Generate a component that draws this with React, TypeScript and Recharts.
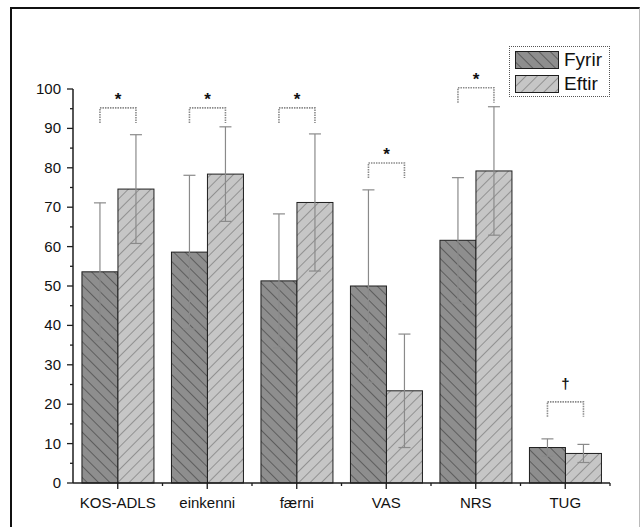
import React from "react";
import { BarChart, Bar, XAxis, YAxis, ErrorBar, Legend } from "recharts";

// values (mean and SD, before / after)
const categories = ["KOS-ADLS", "einkenni", "færni", "VAS", "NRS", "TUG"];
const fyrir = [53.6, 58.6, 51.3, 50.0, 61.6, 9.0];
const fyrirSd = [17.5, 19.5, 17.0, 24.4, 15.9, 2.2];
const eftir = [74.6, 78.4, 71.2, 23.4, 79.2, 7.5];
const eftirSd = [13.8, 12.0, 17.4, 14.4, 16.3, 2.3];
const sigMarks = ["*", "*", "*", "*", "*", "†"];
const bracketLevels = [95.2, 95.2, 95.2, 81.2, 100.3, 20.6];
const yTicks = [0, 5, 10, 15, 20, 25, 30, 35, 40, 45, 50, 55, 60, 65, 70, 75, 80, 85, 90, 95, 100];

const data = categories.map((name, i) => ({
  name,
  fyrir: fyrir[i],
  fyrirSd: fyrirSd[i],
  eftir: eftir[i],
  eftirSd: eftirSd[i],
  mark: sigMarks[i],
  bracket: bracketLevels[i],
}));

const W = 640;
const H = 527;
const MARGIN = { top: 89, right: 30, bottom: 0, left: 0 };
const Y_AXIS_W = 73;
const X_AXIS_H = 44;
const BAND = (W - MARGIN.right - Y_AXIS_W) / categories.length;
const FONT = "'Liberation Sans', Arial, sans-serif";

const AXIS = "#1e1e1e";
const DARK = { fill: "#8e8e8e", hatch: "#4c4c4c" };
const LIGHT = { fill: "#c6c6c6", hatch: "#808080" };

function Hatch({ id, base, line, angle }: { id: string; base: string; line: string; angle: number }) {
  return (
    <pattern id={id} width={8} height={8} patternUnits="userSpaceOnUse" patternTransform={`rotate(${angle})`}>
      <rect width={8} height={8} fill={base} />
      <line x1={0} y1={0} x2={0} y2={8} stroke={line} strokeWidth={1.5} />
    </pattern>
  );
}

// Fyrir bar also draws the significance bracket over the pair
function FyrirShape(props: any) {
  const { x, y, width, height, payload } = props;
  const base = y + height;
  const perUnit = height / payload.fyrir;
  const top = base - payload.bracket * perUnit;
  const x1 = x + width / 2;
  const x2 = x + width * 1.5;
  const dy = payload.mark === "†" ? -13 : -3;
  return (
    <g>
      <rect x={x} y={y} width={width} height={height} fill="url(#hatchDark)" stroke={AXIS} strokeWidth={1} />
      <path
        d={`M${x1},${top + 15}V${top}H${x2}V${top + 15}`}
        fill="none"
        stroke="#8a8a8a"
        strokeWidth={1.6}
        strokeDasharray="1.5 1"
      />
      <text
        x={(x1 + x2) / 2}
        y={top + dy}
        textAnchor="middle"
        fontFamily={FONT}
        fontSize={payload.mark === "†" ? 15 : 17}
        fontWeight="bold"
        fill="#111"
      >
        {payload.mark}
      </text>
    </g>
  );
}

function EftirShape(props: any) {
  const { x, y, width, height } = props;
  return <rect x={x} y={y} width={width} height={height} fill="url(#hatchLight)" stroke={AXIS} strokeWidth={1} />;
}

function YTick(props: any) {
  const { x, y, payload } = props;
  const major = payload.value % 10 === 0;
  return (
    <g>
      <line x1={x - (major ? 6 : 3)} x2={x} y1={y} y2={y} stroke={AXIS} strokeWidth={1.3} />
      {major && (
        <text x={x - 12} y={y + 5} textAnchor="end" fontFamily={FONT} fontSize={15} fill="#111">
          {payload.value}
        </text>
      )}
    </g>
  );
}

function XTick(props: any) {
  const { x, y, payload } = props;
  return (
    <g>
      <line x1={x} x2={x} y1={y} y2={y + 6} stroke={AXIS} strokeWidth={1.3} />
      <line x1={x + BAND / 2} x2={x + BAND / 2} y1={y} y2={y + 3} stroke={AXIS} strokeWidth={1.3} />
      <text x={x} y={y + 25} textAnchor="middle" fontFamily={FONT} fontSize={15} fill="#111">
        {payload.value}
      </text>
    </g>
  );
}

function LegendBox() {
  const items = [
    { label: "Fyrir", fill: "url(#lgDark)" },
    { label: "Eftir", fill: "url(#lgLight)" },
  ];
  return (
    <div
      style={{
        width: 99,
        height: 49,
        border: "1px dotted #555",
        background: "#fff",
        boxSizing: "content-box",
        fontFamily: FONT,
      }}
    >
      {items.map((it, i) => (
        <div key={it.label} style={{ display: "flex", alignItems: "center", height: 18, marginTop: i === 0 ? 4 : 6, marginLeft: 5 }}>
          <svg width={44} height={18} style={{ display: "block" }}>
            <defs>
              <Hatch id="lgDark" base={DARK.fill} line={DARK.hatch} angle={-45} />
              <Hatch id="lgLight" base={LIGHT.fill} line={LIGHT.hatch} angle={45} />
            </defs>
            <rect x={0.5} y={0.5} width={43} height={17} fill={it.fill} stroke={AXIS} strokeWidth={1} />
          </svg>
          <span style={{ marginLeft: 5, fontSize: 19, color: "#111", lineHeight: "18px" }}>{it.label}</span>
        </div>
      ))}
    </div>
  );
}

export default function App() {
  return (
    <div style={{ position: "absolute", left: 0, top: 0, width: W, height: H, background: "#fff" }}>
      <div style={{ position: "absolute", left: 10, top: 7, width: 627, height: H, borderLeft: "2px solid #111", borderTop: "2px solid #111", borderRight: "1px solid #bbb" }} />
      <BarChart width={W} height={H} data={data} margin={MARGIN} barGap={0} barCategoryGap="10%">
        <defs>
          <Hatch id="hatchDark" base={DARK.fill} line={DARK.hatch} angle={-45} />
          <Hatch id="hatchLight" base={LIGHT.fill} line={LIGHT.hatch} angle={45} />
        </defs>
        <XAxis
          dataKey="name"
          height={X_AXIS_H}
          axisLine={{ stroke: AXIS, strokeWidth: 1.5 }}
          tickLine={false}
          tickSize={0}
          tickMargin={0}
          tick={<XTick />}
          interval={0}
        />
        <YAxis
          domain={[0, 100]}
          ticks={yTicks}
          width={Y_AXIS_W}
          axisLine={{ stroke: AXIS, strokeWidth: 1.5 }}
          tickLine={false}
          tickSize={0}
          tickMargin={0}
          tick={<YTick />}
          interval={0}
        />
        <Legend
          layout="vertical"
          align="center"
          verticalAlign="middle"
          content={<LegendBox />}
          wrapperStyle={{ top: 46, left: 509, width: 101, height: 51 }}
        />
        <Bar dataKey="fyrir" name="Fyrir" shape={<FyrirShape />} isAnimationActive={false}>
          <ErrorBar dataKey="fyrirSd" width={6} stroke="#8a8a8a" strokeWidth={1.2} direction="y" isAnimationActive={false} />
        </Bar>
        <Bar dataKey="eftir" name="Eftir" shape={<EftirShape />} isAnimationActive={false}>
          <ErrorBar dataKey="eftirSd" width={6} stroke="#8a8a8a" strokeWidth={1.2} direction="y" isAnimationActive={false} />
        </Bar>
      </BarChart>
    </div>
  );
}
